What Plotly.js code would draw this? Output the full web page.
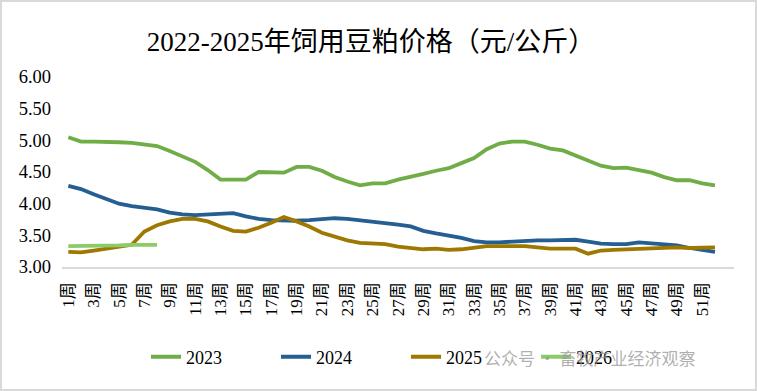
<!DOCTYPE html>
<html>
<head>
<meta charset="utf-8">
<script src="https://cdn.plot.ly/plotly-3.0.1.min.js"></script>
<style>
html,body{margin:0;padding:0;background:#fff;}
#wrap{position:relative;width:757px;height:391px;}
#chart{width:757px;height:391px;}
#frame{position:absolute;left:0;top:0;width:757px;height:391px;box-sizing:border-box;border:2px solid #D9D9D9;pointer-events:none;}
</style>
</head>
<body>
<div id="wrap"><div id="chart"></div><div id="frame"></div></div>
<script>
var weeks = ["1周","2周","3周","4周","5周","6周","7周","8周","9周","10周",
"11周","12周","13周","14周","15周","16周","17周","18周","19周","20周",
"21周","22周","23周","24周","25周","26周","27周","28周","29周","30周",
"31周","32周","33周","34周","35周","36周","37周","38周","39周","40周",
"41周","42周","43周","44周","45周","46周","47周","48周","49周","50周",
"51周","52周"];
var tickWeeks = ["1周","3周","5周","7周","9周","11周","13周","15周","17周","19周",
"21周","23周","25周","27周","29周","31周","33周","35周","37周","39周",
"41周","43周","45周","47周","49周","51周"];

var price2023 = [5.05,4.98,4.98,4.98,4.97,4.96,4.94,4.91,4.83,4.75,
4.66,4.53,4.38,4.38,4.38,4.50,4.49,4.49,4.58,4.58,
4.52,4.42,4.35,4.29,4.32,4.32,4.38,4.42,4.47,4.52,
4.56,4.64,4.72,4.86,4.95,4.98,4.98,4.93,4.87,4.84,
4.76,4.68,4.60,4.56,4.57,4.53,4.49,4.42,4.37,4.37,
4.32,4.29];
var price2024 = [4.28,4.23,4.15,4.07,4.00,3.96,3.93,3.91,3.86,3.83,
3.82,3.83,3.84,3.85,3.80,3.76,3.74,3.73,3.73,3.74,
3.76,3.77,3.76,3.74,3.72,3.69,3.67,3.64,3.57,3.53,
3.50,3.46,3.41,3.39,3.39,3.40,3.42,3.42,3.42,3.42,
3.43,3.40,3.37,3.36,3.36,3.39,3.37,3.36,3.34,3.30,
3.27,3.24];
var price2025 = [3.24,3.23,3.26,3.29,3.32,3.35,3.56,3.66,3.72,3.76,
3.76,3.72,3.64,3.57,3.56,3.62,3.70,3.79,3.72,3.64,
3.54,3.48,3.42,3.38,3.37,3.36,3.32,3.30,3.28,3.29,
3.27,3.28,3.31,3.33,3.33,3.33,3.33,3.31,3.29,3.29,
3.29,3.21,3.26,3.27,3.28,3.29,3.30,3.31,3.31,3.30,
3.31,3.31];
var price2026 = [3.33,3.33,3.34,3.34,3.34,3.35,3.35,3.35];

var seriesNames = ["2023","2024","2025","2026"];
var seriesColors = ["#70AD47","#255E91","#9E7800","#8CCB6A"];
var seriesData = [price2023, price2024, price2025, price2026];

var yTicks = [3.0,3.5,4.0,4.5,5.0,5.5,6.0];

var serif = "'Liberation Serif', 'Times New Roman', 'Noto Sans CJK SC', serif";

var traces = seriesData.map(function(d,i){
  return {
    type:"scatter", mode:"lines",
    x: weeks.slice(0,d.length), y: d,
    name: seriesNames[i],
    line:{color:seriesColors[i], width:3.8},
    hoverinfo:"x+y+name"
  };
});

var layout = {
  width:757, height:391,
  margin:{l:62,r:23,t:77,b:124, autoexpand:false},
  paper_bgcolor:"#fff", plot_bgcolor:"#fff",
  showlegend:true,
  title:{text:"2022-2025年饲用豆粕价格（元/公斤）", x:0.49, xanchor:"center", y:0.893, yanchor:"middle",
    font:{family:serif, size:27, color:"#000"}},
  xaxis:{type:"category", categoryarray:weeks, categoryorder:"array", automargin:false,
    range:[-0.5,52.5], tickmode:"array", tickvals:tickWeeks, ticktext:tickWeeks,
    tickangle:-90, ticks:"", showgrid:false, zeroline:false,
    showline:true, linecolor:"#D9D9D9", linewidth:1.5,
    tickfont:{family:serif, size:17, color:"#000"}, ticklabelstandoff:7, fixedrange:true},
  yaxis:{range:[3,6], tickmode:"array", tickvals:yTicks, tickformat:".2f", automargin:false,
    showgrid:false, zeroline:false, showline:false, ticks:"",
    tickfont:{family:serif, size:18.5, color:"#000"}, ticklabelstandoff:10, fixedrange:true},
  legend:{orientation:"h", x:0.125, xanchor:"left", y:-0.474, yanchor:"middle",
    entrywidth:85, entrywidthmode:"pixels",
    font:{family:serif, size:18, color:"#000"}, bgcolor:"rgba(0,0,0,0)"},
  annotations:[{xref:"paper", yref:"paper", x:0.625, y:-0.474, xanchor:"left", yanchor:"middle",
    text:"公众号 · 畜牧产业经济观察", showarrow:false,
    font:{family:"Noto Sans CJK SC, sans-serif", size:17, color:"rgba(150,150,150,0.75)"}}]
};

Plotly.newPlot("chart", traces, layout, {displayModeBar:false, staticPlot:true});
</script>
</body>
</html>
